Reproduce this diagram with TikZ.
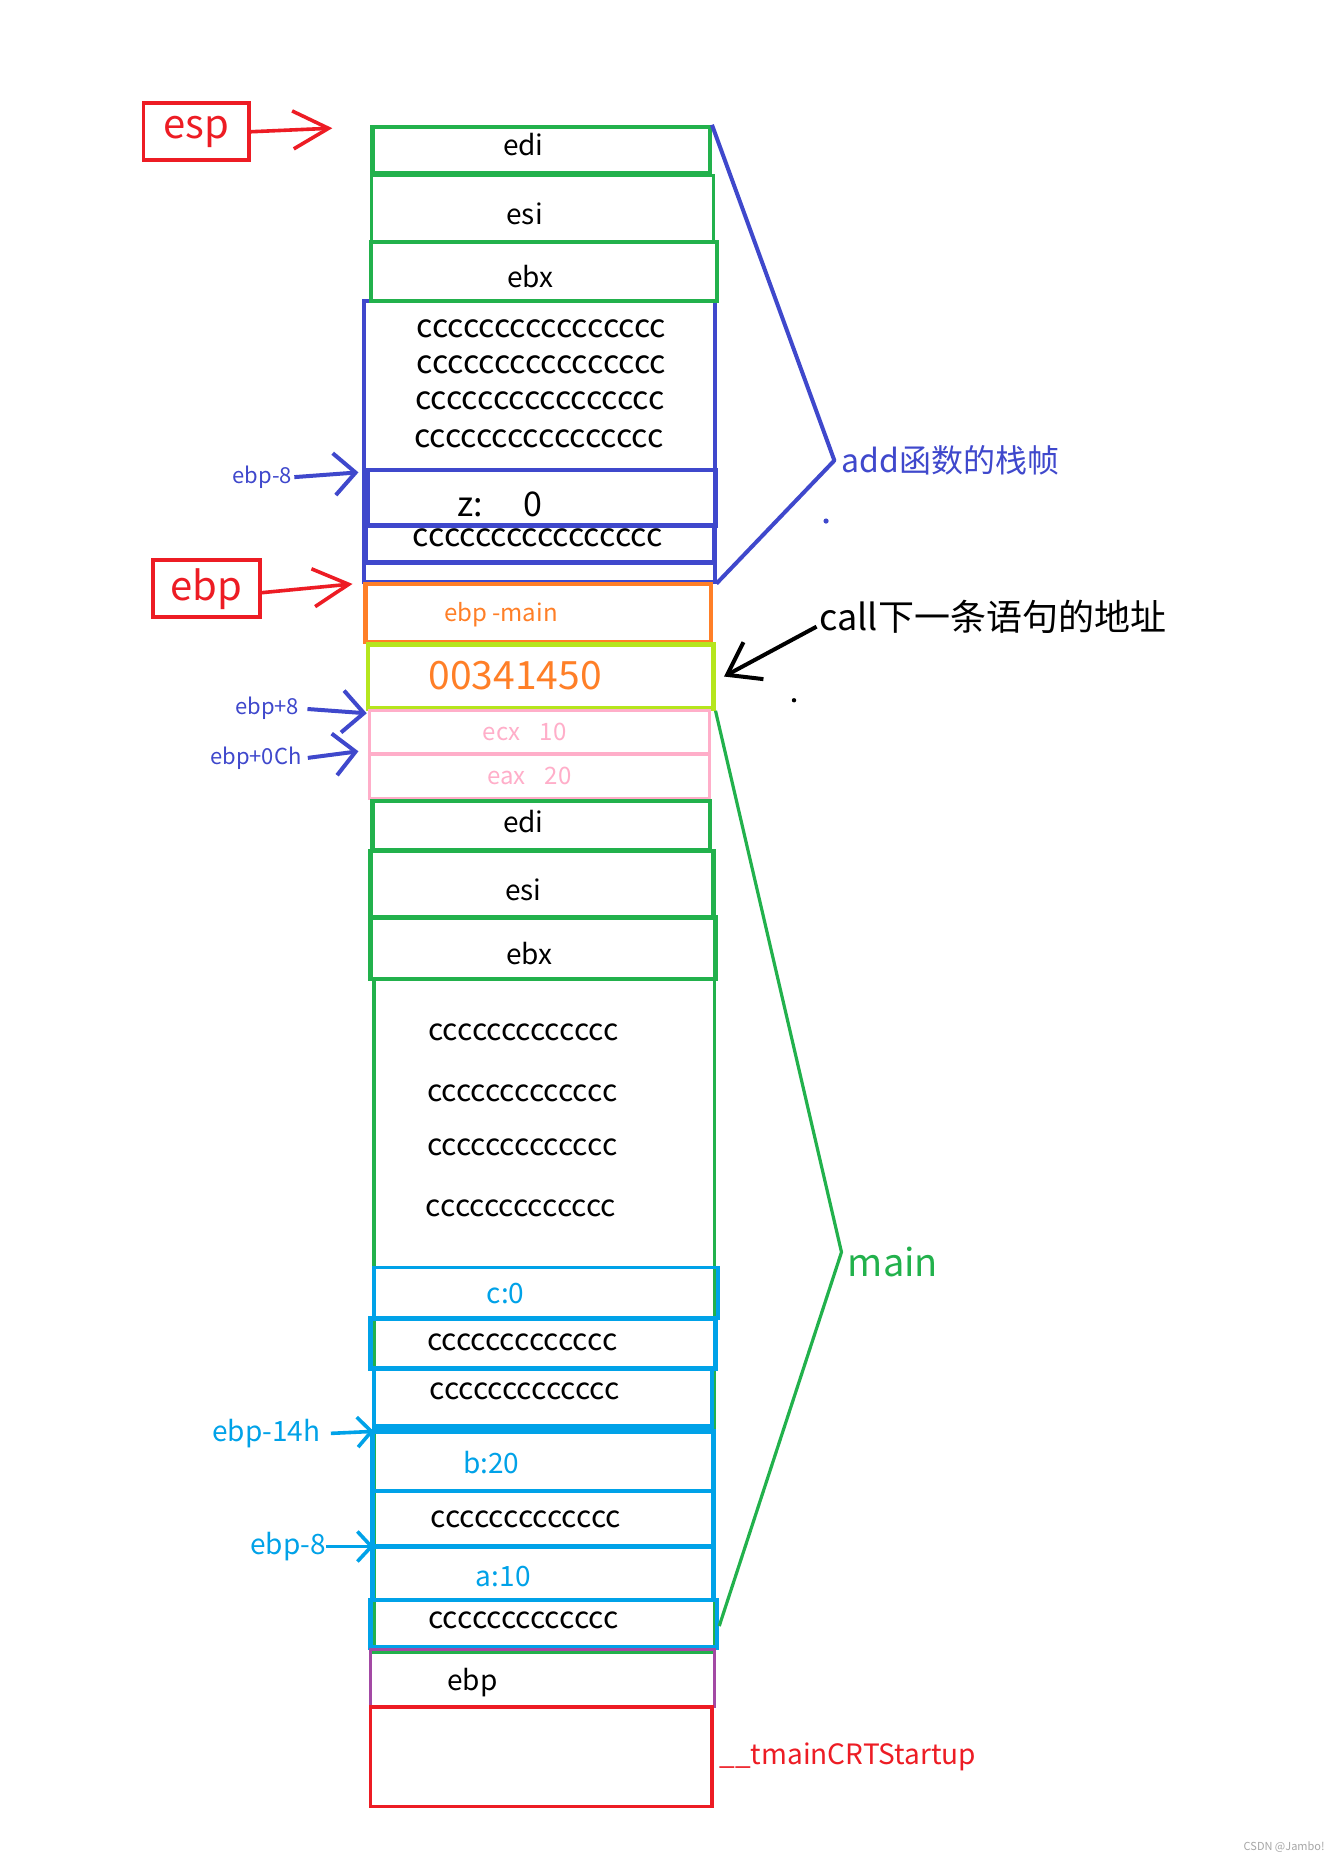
\documentclass[tikz,border=0pt]{standalone}
\usepackage{fontspec}
\setmainfont{Noto Sans CJK SC}
\usetikzlibrary{arrows.meta,fit}
\definecolor{pred}{HTML}{ED1C24}
\definecolor{pgreen}{HTML}{22B14C}
\definecolor{pblue}{HTML}{3F48CC}
\definecolor{porange}{HTML}{FF7F27}
\definecolor{plime}{HTML}{B5E61D}
\definecolor{ppink}{HTML}{FFAEC9}
\definecolor{pcyan}{HTML}{00A2E8}
\definecolor{ppurple}{HTML}{A349A4}
\newcommand\myfs[1]{\fontsize{#1}{#1}\selectfont}
\begin{document}
\begin{tikzpicture}[x=0.59355pt,y=-0.59355pt,
  cell/.style={inner sep=0pt, line width=1.8pt},
  txt/.style={inner sep=0pt, font=\myfs{14pt}},
  ctxt/.style={inner sep=0pt, font=\myfs{16pt}},
  mtxt/.style={inner sep=0pt, font=\myfs{15pt}},
  redarr/.style={pred, line width=1.8pt, -{Straight Barb[length=17.8pt,width=19pt,line width=1.8pt]}},
  bluearr/.style={pblue, line width=2pt, -{Straight Barb[length=10.7pt,width=21pt,line width=2pt]}},
  cyanarr/.style={pcyan, line width=1.8pt, -{Straight Barb[length=7pt,width=15pt,line width=1.8pt]}},
  blackarr/.style={black, line width=2pt, -{Straight Barb[length=15pt,width=21pt,line width=2pt]}}
]
\useasboundingbox[fill=white] (0,0) rectangle (1128,1568);

% ---------- add frame ----------
\node[cell, draw=pblue, line width=2pt, fit={(307,254) (602,490)}] (ablock) {};
\node[cell, draw=pgreen, line width=2.2pt, fit={(314,107) (598,146)}] (edi1) {};
\node[cell, draw=pgreen, fit={(313,148) (601,204)}] (esi1) {};
\node[cell, draw=pgreen, line width=2pt, fit={(313,204) (604,254)}] (ebx1) {};
\node[cell, draw=pblue, line width=2.3pt, fit={(310,396) (603,443)}] (zbox) {};
\node[cell, draw=pblue, line width=2.3pt, fit={(308,443) (602,474)}] (acbox) {};
\node[txt] (tedi1) at (441,122) {edi};
\node[txt] (tesi1) at (442,180) {esi};
\node[txt] (tebx1) at (447,233) {ebx};
\node[ctxt] (ac1) at (456,277) {cccccccccccccccc};
\node[ctxt] (ac2) at (456,307) {cccccccccccccccc};
\node[ctxt] (ac3) at (455,338) {cccccccccccccccc};
\node[ctxt] (ac4) at (454,370) {cccccccccccccccc};
\node[inner sep=0pt, font=\myfs{17pt}] (tz) at (421,425) {z:\hspace{1.2em}0};
\node[ctxt] (ac5) at (453,453) {cccccccccccccccc};

% ---------- esp / ebp ----------
\node[draw=pred, line width=1.8pt, fit={(121,87) (210,135)}, inner sep=0pt] (espbox) {};
\node[inner sep=0pt, text=pred, font=\myfs{20pt}] at (espbox.center) {esp};
\coordinate (esptip) at (280,108);
\draw[redarr] (espbox.east) -- (esptip);

\node[draw=pred, line width=1.8pt, fit={(129,472) (219,520)}, inner sep=0pt] (ebpbox) {};
\node[inner sep=0pt, text=pred, font=\myfs{20pt}] at (ebpbox.center) {ebp};
\coordinate (ebptip) at (297,492);
\draw[redarr] ([yshift=-2pt]ebpbox.east) -- (ebptip);

\node[inner sep=1pt, text=pblue, font=\myfs{11pt}, anchor=east] (lab8) at (248,402) {ebp-8};
\coordinate (tip8) at (302,398);
\draw[bluearr] (lab8.east) -- (tip8);

% ---------- bracket add ----------
\coordinate (addtip) at (703,388);
\draw[pblue, line width=2pt, line join=round] (edi1.north east) -- (addtip) -- (ablock.south east);
\node[inner sep=0pt, text=pblue, font=\myfs{16pt}, anchor=west] (addlab) at (709,388) {add函数的栈帧};
\fill[pblue] (696,439) circle (1.3pt);

% ---------- return area ----------
\node[cell, draw=porange, line width=2.2pt, fit={(308,492) (599,541)}] (mainebp) {};
\node[inner sep=0pt, text=porange, font=\myfs{12pt}] at (422,518) {ebp -main};
\node[cell, draw=plime, line width=2.2pt, fit={(310,543) (601,597)}] (retbox) {};
\node[inner sep=0pt, text=porange, font=\myfs{19.5pt}] at (434,569) {00341450};

\node[inner sep=0pt, font=\myfs{18pt}, anchor=west] (calllab) at (690,520) {call下一条语句的地址};
\coordinate (calltip) at (610,570);
\draw[blackarr] (688,528) -- (calltip);
\fill[black] (669,590) circle (1.1pt);

\node[cell, draw=ppink, line width=1.5pt, fit={(311,599) (598,635)}] (ecxbox) {};
\node[inner sep=0pt, text=ppink, font=\myfs{12pt}] at (442,617) {ecx\hspace{0.8em}10};
\node[cell, draw=ppink, line width=1.5pt, fit={(311,636) (598,673)}] (eaxbox) {};
\node[inner sep=0pt, text=ppink, font=\myfs{12pt}] at (446,654) {eax\hspace{0.8em}20};

\node[inner sep=1pt, text=pblue, font=\myfs{11pt}, anchor=east] (labp8) at (254,597) {ebp+8};
\coordinate (tipp8) at (309,601);
\draw[bluearr, shorten <=3pt] (labp8.east) -- (tipp8);
\node[inner sep=1pt, text=pblue, font=\myfs{11pt}, anchor=east] (labpc) at (256,639) {ebp+0Ch};
\coordinate (tippc) at (302,633);
\draw[bluearr, shorten <=2pt] (labpc.east) -- (tippc);

% ---------- main frame ----------
\node[cell, draw=pgreen, fit={(315,825) (602,1390)}] (mblock) {};
\node[cell, draw=pgreen, line width=2.2pt, fit={(314,675) (598,716)}] (edi2) {};
\node[cell, draw=pgreen, line width=2.2pt, fit={(312,717) (601,773)}] (esi2) {};
\node[cell, draw=pgreen, line width=2.2pt, fit={(312,773) (603,825)}] (ebx2) {};
\node[txt] at (441,692) {edi};
\node[txt] at (441,750) {esi};
\node[txt] at (446,803) {ebx};
\node[mtxt] at (441,870) {ccccccccccccc};
\node[mtxt] at (440,921) {ccccccccccccc};
\node[mtxt] at (440,967) {ccccccccccccc};
\node[mtxt] at (439,1018) {ccccccccccccc};

\node[cell, draw=pcyan, fit={(315,1068) (605,1111)}] (cbox) {};
\node[txt, text=pcyan] at (426,1090) {c:0};
\node[cell, draw=pcyan, line width=2.2pt, fit={(312,1111) (603,1153)}] (mc1) {};
\node[mtxt] at (440,1131) {ccccccccccccc};
\node[cell, draw=pcyan, line width=2.2pt, fit={(315,1153) (600,1202)}] (mc2) {};
\node[mtxt] at (442,1172) {ccccccccccccc};
\node[cell, draw=pcyan, line width=2.2pt, fit={(314,1206) (601,1256)}] (bbox) {};
\node[txt, text=pcyan] at (414,1232) {b:20};
\node[cell, draw=pcyan, line width=2.2pt, fit={(314,1256) (601,1303)}] (mc3) {};
\node[mtxt] at (443,1280) {ccccccccccccc};
\node[cell, draw=pcyan, line width=2.2pt, fit={(314,1303) (601,1348)}] (abox) {};
\node[txt, text=pcyan] at (424,1328) {a:10};
\node[cell, draw=pcyan, line width=2.2pt, fit={(312,1348) (604,1388)}] (mc4) {};
\node[mtxt] at (441,1365) {ccccccccccccc};
\draw[pgreen, line width=2pt] (mblock.south west) -- (mblock.south east);

\node[inner sep=1pt, text=pcyan, font=\myfs{14pt}, anchor=east] (lab14) at (272,1208) {ebp-14h};
\coordinate (tip14) at (315,1206);
\draw[cyanarr, shorten <=4pt] (lab14.east) -- (tip14);
\node[inner sep=0pt, text=pcyan, font=\myfs{14pt}, anchor=east] (labm8) at (275,1303) {ebp-8};
\coordinate (tipm8) at (315,1303);
\draw[cyanarr] (labm8.east) -- (tipm8);

\coordinate (maintip) at (709,1055);
\draw[pgreen, line width=1.6pt, line join=round] (retbox.south east) -- (maintip) -- (606,1370);
\node[inner sep=0pt, text=pgreen, font=\myfs{19pt}, anchor=west] (mainlab) at (714,1063) {main};

% ---------- caller ----------
\node[cell, draw=ppurple, line width=1.6pt, fit={(312,1390) (602,1438)}] (ebp3) {};
\node[txt] at (398,1418) {ebp};
\node[cell, draw=pred, line width=1.8pt, fit={(312,1438) (600,1522)}] (crt) {};
\node[inner sep=0pt, text=pred, font=\myfs{14pt}, anchor=west] (crtlab) at (606,1480) {\_\_tmainCRTStartup};

\node[inner sep=0pt, text=gray!70, font=\myfs{5.5pt}] (wm) at (1082,1556) {CSDN @Jambo!};
\end{tikzpicture}
\end{document}
